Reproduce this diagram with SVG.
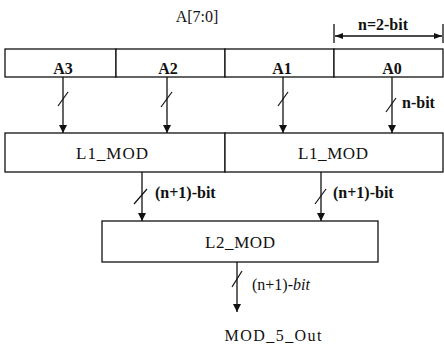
<svg xmlns="http://www.w3.org/2000/svg" width="444" height="348" viewBox="0 0 444 348">
<defs>
<marker id="ah" viewBox="0 0 8 10" refX="8" refY="5" markerWidth="8" markerHeight="10" markerUnits="userSpaceOnUse" orient="auto">
<path d="M0,1 L8,5 L0,9 Z" fill="#111"/>
</marker>
<marker id="ahs" viewBox="0 0 8 8" refX="8" refY="4" markerWidth="8" markerHeight="8" markerUnits="userSpaceOnUse" orient="auto-start-reverse">
<path d="M0,1 L8,4 L0,7 Z" fill="#111"/>
</marker>
<style>
.box{fill:#fff;stroke:#111;stroke-width:1.3}
.ln{stroke:#111;stroke-width:1.3;fill:none}
.sl{stroke:#111;stroke-width:1.2;fill:none}
.t{font-family:"Liberation Serif","Times New Roman",serif;font-size:16px;fill:#111}
.b{font-weight:bold}
.m{text-anchor:middle}
.mod{font-size:17px}
</style>
</defs>
<rect width="444" height="348" fill="#fff"/>

<text class="t m" x="197" y="22">A[7:0]</text>

<g id="dimension">
<line class="ln" x1="334" y1="24" x2="334" y2="43"/>
<line class="ln" x1="443" y1="24" x2="443" y2="43"/>
<line class="ln" x1="335" y1="36" x2="442" y2="36" marker-start="url(#ahs)" marker-end="url(#ahs)"/>
<text class="t b m" x="383" y="30">n=2-bit</text>
</g>

<g id="A3"><rect class="box" x="5" y="49" width="111" height="28"/><text class="t b m" x="63" y="74">A3</text></g>
<g id="A2"><rect class="box" x="116" y="49" width="109" height="28"/><text class="t b m" x="168" y="74">A2</text></g>
<g id="A1"><rect class="box" x="225" y="49" width="109" height="28"/><text class="t b m" x="282" y="74">A1</text></g>
<g id="A0"><rect class="box" x="334" y="49" width="109" height="28"/><text class="t b m" x="392" y="74">A0</text></g>

<g id="L1_MOD_left"><rect class="box" x="5" y="133" width="220" height="39"/><text class="t m mod" x="112" y="159" textLength="72" lengthAdjust="spacing">L1_MOD</text></g>
<g id="L1_MOD_right"><rect class="box" x="225" y="133" width="218" height="39"/><text class="t m mod" x="333" y="159" textLength="70" lengthAdjust="spacing">L1_MOD</text></g>

<g id="L2_MOD"><rect class="box" x="102" y="221" width="276" height="41"/><text class="t m mod" x="240" y="248" textLength="70" lengthAdjust="spacing">L2_MOD</text></g>

<g id="connectors">
<line class="ln" x1="63" y1="77" x2="63" y2="133" marker-end="url(#ah)"/>
<line class="sl" x1="58" y1="106" x2="68" y2="92"/>
<line class="ln" x1="167" y1="77" x2="167" y2="133" marker-end="url(#ah)"/>
<line class="sl" x1="161" y1="107" x2="172" y2="92"/>
<line class="ln" x1="283" y1="77" x2="283" y2="133" marker-end="url(#ah)"/>
<line class="sl" x1="278" y1="106" x2="288" y2="92"/>
<line class="ln" x1="392" y1="77" x2="392" y2="133" marker-end="url(#ah)"/>
<line class="sl" x1="386" y1="112" x2="396" y2="98"/>
<text class="t b" x="402" y="108">n-bit</text>

<line class="ln" x1="142" y1="172" x2="142" y2="221" marker-end="url(#ah)"/>
<line class="sl" x1="134" y1="204" x2="147" y2="189"/>
<text class="t b" x="155" y="198">(n+1)-bit</text>
<line class="ln" x1="321" y1="172" x2="321" y2="221" marker-end="url(#ah)"/>
<line class="sl" x1="315" y1="204" x2="326" y2="189"/>
<text class="t b" x="333" y="198">(n+1)-bit</text>

<line class="ln" x1="237" y1="262" x2="237" y2="312" marker-end="url(#ah)"/>
<line class="sl" x1="232" y1="287" x2="242" y2="271"/>
<text class="t" x="252" y="290">(n+1)-<tspan font-style="italic">bit</tspan></text>
</g>

<text class="t m" x="273" y="341" textLength="97" lengthAdjust="spacing">MOD_5_Out</text>
</svg>
